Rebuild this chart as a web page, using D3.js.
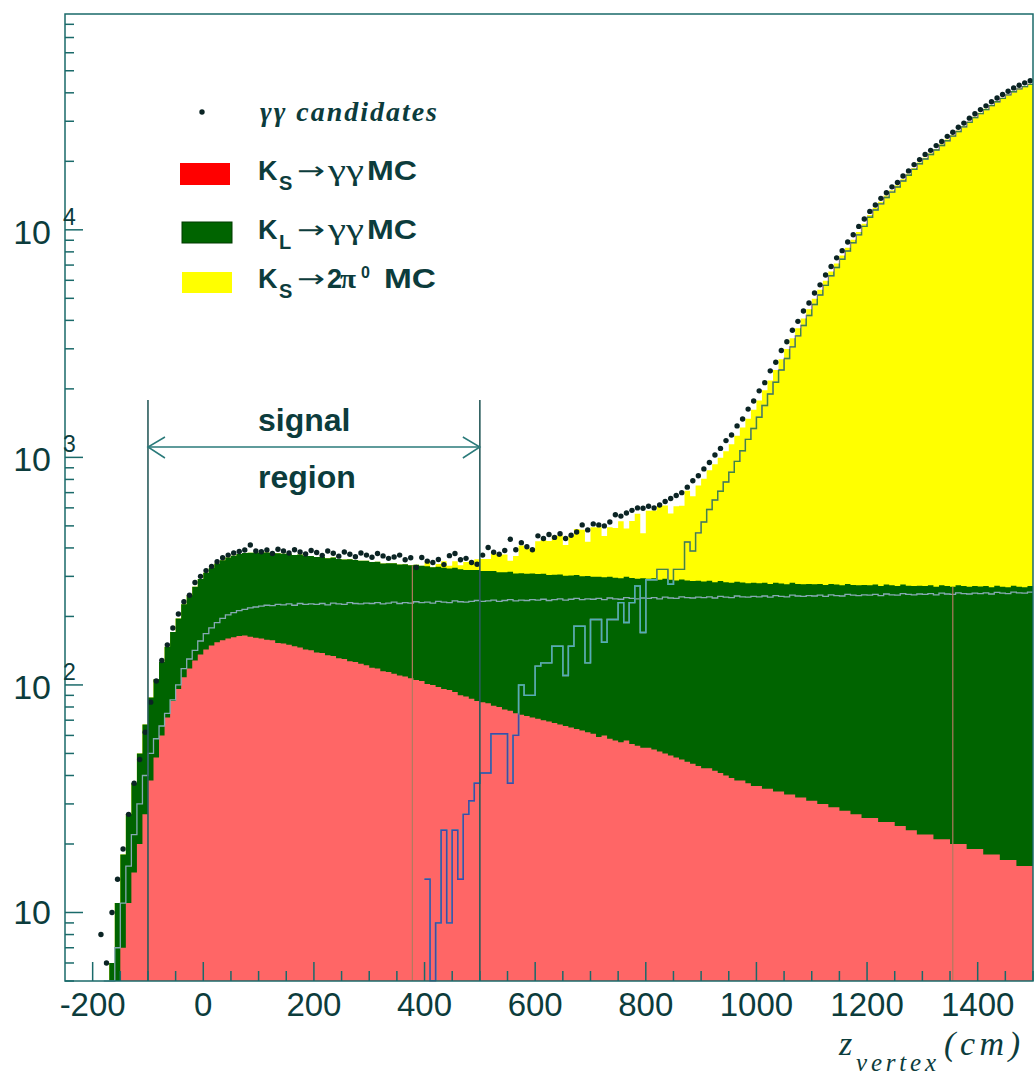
<!DOCTYPE html>
<html><head><meta charset="utf-8">
<script src="https://cdn.jsdelivr.net/npm/d3@7"></script>
<style>html,body{margin:0;padding:0;background:#fff;} svg{display:block;}</style>
</head><body>
<svg id="chart" width="1036" height="1078"></svg>
<script>
// ---- binning (10 cm bins starting at z = -200 cm) ----
const binStart = -200, binWidth = 10;

// K_S -> gamma gamma MC (bottom of stack)
const ksGG = [
  0,0,0,2,4,7,11,15,20,27,
  38,48,60,72,85,96,108,118,128,136,
  143,149,154,157,160,162,164,165,163,161,
  160,158,157,153,152,150,148,146,143,142,
  139,138,135,134,131,130,127,126,124,122,
  119,118,115,114,112,110,109,107,105,104,
  101,100,98,96,95,93,90,89,87,85,
  84,83,81,80,78,77,75,74,73,72,
  71,70,69,68,67,66,65,64,63,62,
  61,59,60,58,57,56,57,55,54,53,
  53,52,51,50,49,48,47,46,45,44,
  43,43,42,41,40,39,38,38,37,36,
  36,35,35,34,34,33,33,32,32,31,
  31,30,30,29,29,28,28,27,27,26,
  26,26,25,25,25,24,24,23,23,22,
  22,22,21,21,21,20,20,20,19,19,
  19,18,18,18,17,17,17,16,16,16
];

// K_L -> gamma gamma MC
const klGG = [
  0,0,2,4,7,11,16,22,30,40,
  50,58,66,75,86,100,118,130,142,156,
  168,178,188,196,203,208,212,215,218,220,
  222,224,223,226,225,227,224,228,226,227,
  226,228,225,229,227,226,230,228,227,229,
  228,230,227,229,231,228,230,229,232,230,
  231,229,233,231,230,234,232,231,233,235,
  233,234,236,233,235,237,234,236,235,237,
  236,238,235,237,239,236,238,240,237,239,
  238,240,237,241,239,238,242,240,239,241,
  240,242,239,243,241,240,244,242,241,243,
  242,244,241,245,243,242,246,244,243,245,
  244,246,243,247,245,244,248,246,245,247,
  246,248,245,249,247,246,250,248,247,249,
  248,250,247,251,249,248,252,250,249,251,
  250,252,249,253,251,250,254,252,251,253,
  252,254,251,255,253,252,256,254,253,256
];

// K_S -> 2 pi0 MC
const ks2pi0 = [
  0,0,0,0,0,0,0,0,0,0,
  0,0,0,0,0,0,0,0,0,0,
  0,0,0,0,0,0,0,0,0,0,
  0,0,0,0,0,0,0,0,0,0,
  0,0,0,0,0,0,0,0,0,0,
  0,0,0,0,0,0,0,0,0,0,
  14,0,9,23,9,23,14,27,31,37,
  41,41,61,61,61,37,60,100,90,90,
  121,125,125,148,148,110,148,181,181,125,
  194,194,154,194,194,230,188,230,272,170,
  290,290,322,322,277,322,322,425,388,466,
  520,590,650,710,780,860,960,1070,1200,1340,
  1500,1690,1900,2140,2420,2720,3060,3420,3800,4200,
  4700,5170,5700,6280,6830,7430,8070,8780,9500,10350,
  11350,12220,13000,13870,14650,15420,16390,17360,18430,19500,
  20470,21440,22410,23480,24640,25800,27060,28330,29680,31140,
  32400,33760,35120,36570,37830,39190,40450,41610,42580,43550
];

// gamma gamma candidates (data)
const dataGG = [
  0,8,6,10,14,19,27,37,47,62,
  84,104,128,150,178,205,232,248,282,300,
  318,332,348,362,372,380,386,392,412,388,
  385,392,378,395,388,380,393,384,376,390,
  382,371,388,379,368,384,375,366,380,372,
  364,378,369,360,365,372,355,362,328,363,
  350,345,356,338,370,378,355,360,345,339,
  372,402,383,375,390,437,393,422,405,393,
  452,440,458,445,462,440,455,470,505,480,
  510,505,500,520,560,552,570,585,600,598,
  610,600,618,640,660,680,700,740,790,830,
  890,950,1025,1095,1185,1255,1375,1475,1630,1770,
  1960,2130,2400,2620,2950,3220,3620,3960,4400,4770,
  5280,5730,6330,6900,7530,8100,8840,9520,10350,11150,
  12050,12850,13750,14550,15450,16150,17250,18150,19350,20350,
  21450,22350,23450,24450,25750,26850,28250,29450,30950,32350,
  33750,35050,36550,37950,39350,40650,42050,43150,44250,45200
];

const xTicks = [-200, 0, 200, 400, 600, 800, 1000, 1200, 1400];
const yDecades = [10, 100, 1000, 10000];
const yExponents = ["", "2", "3", "4"];
const signalRegion = [-100, 500];
const markerLines = [378, 1355];
const signalText = ["signal", "region"];

// ---- layout ----
const L = 65, R = 1033, T = 14, B = 981;
const axisCol = "#1a6a6a", textCol = "#0c3c3c";
const svg = d3.select("#chart");
const x = d3.scaleLinear().domain([-250, 1500]).range([L, R]);
const y = d3.scaleLog().domain([5, 88800]).range([B, T]).clamp(true);
const yv = v => v > 0 ? y(v) : B;

const s1 = ksGG.slice();
const s2 = s1.map((v, i) => v + klGG[i]);
const s3 = s2.map((v, i) => v + ks2pi0[i]);

function stepPts(arr, from = 0) {
  const pts = [];
  for (let i = from; i < arr.length; i++) pts.push({ z: binStart + i * binWidth, v: arr[i] });
  pts.push({ z: binStart + arr.length * binWidth, v: arr[arr.length - 1] });
  return pts;
}
const area = d3.area().curve(d3.curveStepAfter).x(d => x(d.z)).y0(B).y1(d => yv(d.v));
const line = d3.line().curve(d3.curveStepAfter).x(d => x(d.z)).y(d => yv(d.v));

const defs = svg.append("defs");
defs.append("clipPath").attr("id", "cS3").append("path").attr("d", area(stepPts(s3)));
defs.append("clipPath").attr("id", "cS2").append("path").attr("d", area(stepPts(s2)));
defs.append("clipPath").attr("id", "cS1").append("path").attr("d", area(stepPts(s1)));

// stacked fills
svg.append("path").attr("d", area(stepPts(s3))).attr("fill", "#ffff00");
svg.append("path").attr("d", area(stepPts(s2))).attr("fill", "#006400");
svg.append("path").attr("d", area(stepPts(s1))).attr("fill", "#ff6666");

// K_L alone outline
const firstKL = klGG.findIndex(v => v > 0);
svg.append("path").attr("d", line(stepPts(klGG, firstKL)))
  .attr("fill", "none").attr("stroke", "#86a9b4").attr("stroke-width", 1.3);

// K_S -> 2pi0 alone outline (appearance depends on underlying fill)
const first2pi = ks2pi0.findIndex(v => v > 0);
const outlineD = line(stepPts(ks2pi0, first2pi));
[["#d080d8", null], ["#3f8a3a", "cS3"], ["#4fb0b8", "cS2"], ["#4646a8", "cS1"]].forEach(([c, clip]) => {
  const p = svg.append("path").attr("d", outlineD).attr("fill", "none")
    .attr("stroke", c).attr("stroke-width", 1.4);
  if (clip) p.attr("clip-path", `url(#${clip})`);
});

// marker lines
markerLines.forEach(z => {
  const i = Math.floor((z - binStart) / binWidth);
  svg.append("line").attr("x1", x(z)).attr("x2", x(z)).attr("y1", yv(s2[i])).attr("y2", B)
    .attr("stroke", "#b07a5e").attr("stroke-width", 1.2);
});

// data points
svg.append("g").selectAll("circle").data(dataGG.map((v, i) => ({ z: binStart + (i + 0.5) * binWidth, v })).filter(d => d.v > 0))
  .join("circle").attr("cx", d => x(d.z)).attr("cy", d => y(d.v)).attr("r", 2.7).attr("fill", "#0b2424");

// signal region
signalRegion.forEach(z => {
  svg.append("line").attr("x1", x(z)).attr("x2", x(z)).attr("y1", 400).attr("y2", B)
    .attr("stroke", "#2a5c5c").attr("stroke-width", 1.6);
});
const ay = 447, xa = x(signalRegion[0]), xb = x(signalRegion[1]);
svg.append("line").attr("x1", xa).attr("x2", xb).attr("y1", ay).attr("y2", ay).attr("stroke", "#2a7a7a").attr("stroke-width", 1.5);
svg.append("polyline").attr("points", `${xa + 17},${ay - 10} ${xa},${ay} ${xa + 17},${ay + 11}`).attr("fill", "none").attr("stroke", "#2a7a7a").attr("stroke-width", 1.5);
svg.append("polyline").attr("points", `${xb - 17},${ay - 10} ${xb},${ay} ${xb - 17},${ay + 11}`).attr("fill", "none").attr("stroke", "#2a7a7a").attr("stroke-width", 1.5);
svg.append("text").attr("x", 258).attr("y", 431).text(signalText[0])
  .attr("font-family", "Liberation Sans, Arial, sans-serif").attr("font-weight", "bold").attr("font-size", 32).attr("fill", textCol);
svg.append("text").attr("x", 258).attr("y", 488).text(signalText[1])
  .attr("font-family", "Liberation Sans, Arial, sans-serif").attr("font-weight", "bold").attr("font-size", 32).attr("fill", textCol);

// ---- axes ----
const ax = svg.append("g").attr("stroke", axisCol).attr("stroke-width", 1.5);
ax.append("rect").attr("x", L).attr("y", T).attr("width", R - L).attr("height", B - T).attr("fill", "none");
for (let z = -200; z <= 1500; z += 50) {
  const major = (z % 200 === 0);
  ax.append("line").attr("x1", x(z)).attr("x2", x(z)).attr("y1", B).attr("y2", B - (major ? 19 : 10));
}
const yMinor = [];
[1, 10, 100, 1000, 10000].forEach(d => { for (let k = 1; k <= 9; k++) yMinor.push(k * d); });
yMinor.filter(v => v >= 5 && v <= 88800).forEach(v => {
  const major = yDecades.includes(v);
  ax.append("line").attr("x1", L).attr("x2", L + (major ? 18 : 9)).attr("y1", y(v)).attr("y2", y(v));
});

const sans = "Liberation Sans, Arial, Helvetica, sans-serif";
const serif = "Liberation Serif, Times New Roman, serif";
svg.append("g").selectAll("text").data(xTicks).join("text")
  .attr("x", d => x(d)).attr("y", 1016).attr("text-anchor", "middle")
  .attr("font-family", sans).attr("font-size", 33).attr("fill", textCol).text(d => d);

yDecades.forEach((v, i) => {
  const ty = y(v);
  const e = yExponents[i];
  svg.append("text").attr("x", 51).attr("y", e ? ty + 14 : ty + 12).attr("text-anchor", "end")
    .attr("font-family", sans).attr("font-size", 34).attr("fill", textCol).text("10");
  if (e) svg.append("text").attr("x", 63).attr("y", ty - 5).attr("font-family", sans)
    .attr("font-size", 23).attr("fill", textCol).text(e);
});

// axis title
svg.append("text").attr("x", 839).attr("y", 1055).attr("font-family", serif).attr("font-style", "italic")
  .attr("font-size", 34).attr("fill", textCol).text("z");
svg.append("text").attr("x", 856).attr("y", 1071).attr("font-family", serif).attr("font-style", "italic")
  .attr("font-size", 25).attr("fill", textCol).attr("textLength", 80).attr("lengthAdjust", "spacing").text("vertex");
svg.append("text").attr("x", 944).attr("y", 1055).attr("font-family", serif).attr("font-style", "italic")
  .attr("font-size", 34).attr("fill", textCol).attr("textLength", 76).attr("lengthAdjust", "spacing").text("(cm)");

// ---- legend ----
const lg = svg.append("g");
lg.append("circle").attr("cx", 202).attr("cy", 112).attr("r", 2.7).attr("fill", "#0b2424");
lg.append("text").attr("x", 260).attr("y", 121).attr("font-family", serif).attr("font-style", "italic")
  .attr("font-weight", "bold").attr("font-size", 28).attr("fill", textCol)
  .attr("textLength", 177).attr("lengthAdjust", "spacing").text("γγ candidates");
lg.append("rect").attr("x", 180).attr("y", 163).attr("width", 50).attr("height", 22).attr("fill", "#ff0000");
lg.append("rect").attr("x", 182).attr("y", 222).attr("width", 50).attr("height", 21).attr("fill", "#006400").attr("stroke", "#003a00").attr("stroke-width", 1);
lg.append("rect").attr("x", 182).attr("y", 272).attr("width", 50).attr("height", 21).attr("fill", "#ffff00");

function tx(xp, yp, s, opts) {
  const t = lg.append("text").attr("x", xp).attr("y", yp).attr("fill", textCol)
    .attr("font-family", opts.f || sans).attr("font-size", opts.s || 27).text(s);
  if (opts.b) t.attr("font-weight", "bold");
  if (opts.len) t.attr("textLength", opts.len).attr("lengthAdjust", "spacingAndGlyphs");
  return t;
}
const rows = [
  { y: 180, sub: "S" },
  { y: 239, sub: "L" },
  { y: 288, sub: "S" }
];
rows.forEach((r, i) => {
  tx(258, r.y, "K", { b: true });
  tx(279, r.y + 10, r.sub, { b: true, s: 20 });
  tx(297, r.y - 1, "→", { f: "DejaVu Sans, sans-serif", s: 24, len: 28 });
  if (i < 2) {
    tx(328, r.y, "γγ", { f: serif, s: 29, len: 36 });
    tx(367, r.y, "MC", { b: true, len: 50 });
  } else {
    tx(327, r.y, "2", { b: true, s: 27 });
    tx(340, r.y, "π", { f: serif, s: 27, b: true, len: 16 });
    tx(361, r.y - 10, "0", { b: true, s: 16 });
    tx(384, r.y, "MC", { b: true, len: 52 });
  }
});
</script>
</body></html>
